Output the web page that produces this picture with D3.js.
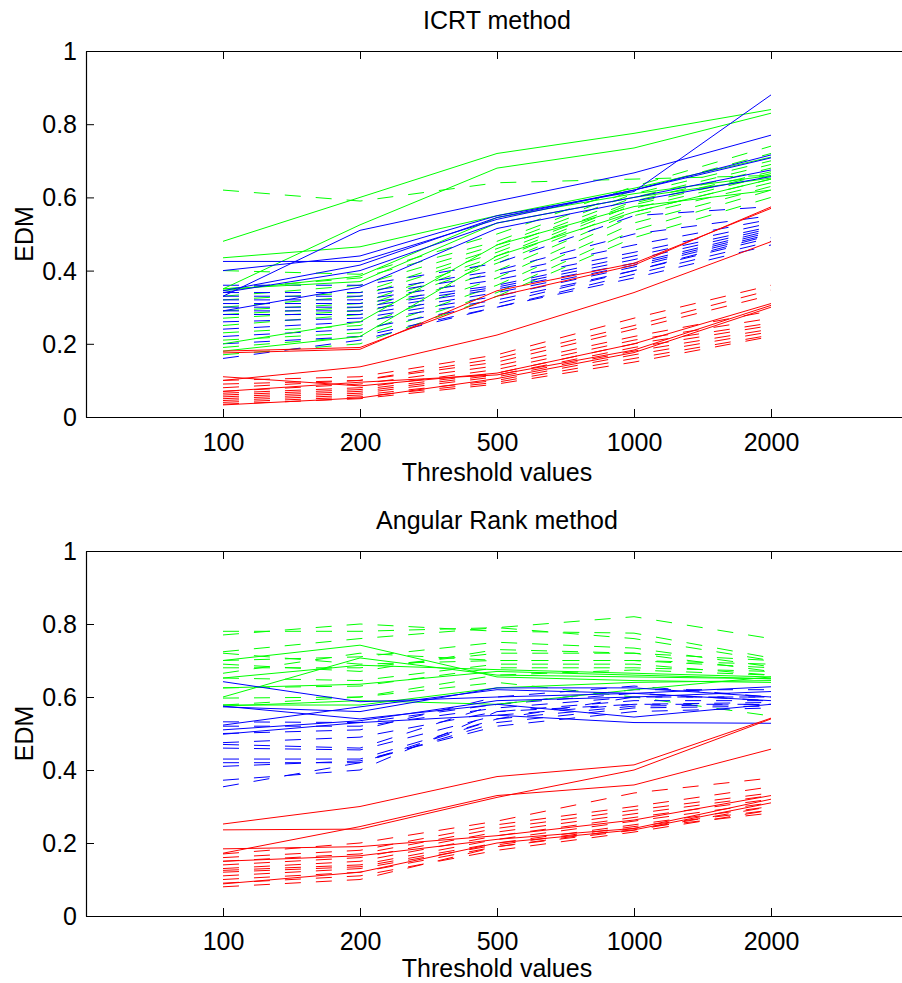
<!DOCTYPE html>
<html>
<head>
<meta charset="utf-8">
<script src="https://cdn.jsdelivr.net/npm/d3@7/dist/d3.min.js"></script>
<style>
  html, body { margin: 0; padding: 0; background: #fff; }
  svg { display: block; }
  text { font-family: "Liberation Sans", Arial, Helvetica, sans-serif; fill: #000; }
</style>
</head>
<body>
<svg id="chart" width="902" height="983"></svg>
<script>
// ---------- data ----------
const thresholds = ["100", "200", "500", "1000", "2000"];
const yTickValues = [0, 0.2, 0.4, 0.6, 0.8, 1];

// ICRT method
const icrtGreenSolid = [
  [0.48, 0.60, 0.72, 0.775, 0.84],
  [0.35, 0.525, 0.68, 0.735, 0.83],
  [0.435, 0.465, 0.55, 0.625, 0.71],
  [0.345, 0.385, 0.545, 0.61, 0.66],
  [0.35, 0.37, 0.53, 0.60, 0.653],
  [0.20, 0.26, 0.47, 0.575, 0.62],
  [0.18, 0.22, 0.44, 0.56, 0.65]
];
const icrtGreenDashed = [
  [0.62, 0.59, 0.64, 0.65, 0.66],
  [0.40, 0.39, 0.50, 0.63, 0.74],
  [0.35, 0.38, 0.48, 0.62, 0.72],
  [0.33, 0.36, 0.47, 0.61, 0.70],
  [0.32, 0.34, 0.46, 0.60, 0.69],
  [0.30, 0.33, 0.45, 0.59, 0.68],
  [0.29, 0.31, 0.44, 0.585, 0.67],
  [0.28, 0.30, 0.43, 0.58, 0.665],
  [0.27, 0.29, 0.42, 0.57, 0.66],
  [0.25, 0.28, 0.40, 0.56, 0.65],
  [0.23, 0.25, 0.38, 0.55, 0.64],
  [0.21, 0.23, 0.36, 0.53, 0.63],
  [0.19, 0.22, 0.34, 0.51, 0.62],
  [0.17, 0.20, 0.33, 0.49, 0.60]
];
const icrtBlueSolid = [
  [0.33, 0.51, 0.59, 0.667, 0.77],
  [0.40, 0.44, 0.55, 0.616, 0.88],
  [0.425, 0.425, 0.54, 0.62, 0.716],
  [0.345, 0.415, 0.545, 0.62, 0.708],
  [0.34, 0.40, 0.53, 0.60, 0.675],
  [0.29, 0.355, 0.515, 0.59, 0.657]
];
const icrtBlueDashed = [
  [0.36, 0.36, 0.42, 0.55, 0.575],
  [0.34, 0.34, 0.40, 0.50, 0.55],
  [0.33, 0.33, 0.39, 0.47, 0.54],
  [0.32, 0.32, 0.375, 0.45, 0.53],
  [0.31, 0.31, 0.36, 0.44, 0.52],
  [0.30, 0.30, 0.355, 0.43, 0.515],
  [0.29, 0.29, 0.35, 0.42, 0.51],
  [0.28, 0.28, 0.34, 0.415, 0.505],
  [0.26, 0.27, 0.33, 0.41, 0.50],
  [0.24, 0.26, 0.32, 0.40, 0.497],
  [0.22, 0.24, 0.31, 0.40, 0.49],
  [0.20, 0.22, 0.30, 0.39, 0.48],
  [0.16, 0.21, 0.30, 0.38, 0.47]
];
const icrtRedSolid = [
  [0.18, 0.19, 0.33, 0.415, 0.574],
  [0.175, 0.185, 0.345, 0.42, 0.57],
  [0.10, 0.137, 0.224, 0.34, 0.479],
  [0.11, 0.085, 0.12, 0.20, 0.31],
  [0.07, 0.095, 0.115, 0.183, 0.305],
  [0.033, 0.052, 0.105, 0.176, 0.30]
];
const icrtRedDashed = [
  [0.10, 0.11, 0.17, 0.27, 0.36],
  [0.09, 0.10, 0.16, 0.25, 0.347],
  [0.08, 0.10, 0.15, 0.24, 0.333],
  [0.07, 0.09, 0.14, 0.22, 0.29],
  [0.065, 0.08, 0.13, 0.21, 0.27],
  [0.06, 0.075, 0.12, 0.20, 0.257],
  [0.055, 0.07, 0.115, 0.19, 0.25],
  [0.05, 0.065, 0.11, 0.18, 0.24],
  [0.045, 0.06, 0.10, 0.17, 0.233],
  [0.04, 0.055, 0.095, 0.16, 0.224],
  [0.035, 0.05, 0.09, 0.15, 0.22]
];

// Angular Rank method
const rankGreenSolid = [
  [0.70, 0.742, 0.655, 0.645, 0.64],
  [0.652, 0.687, 0.675, 0.665, 0.655],
  [0.60, 0.707, 0.66, 0.655, 0.65],
  [0.578, 0.578, 0.625, 0.64, 0.645],
  [0.625, 0.635, 0.67, 0.66, 0.65],
  [0.575, 0.59, 0.58, 0.62, 0.655]
];
const rankGreenDashed = [
  [0.78, 0.78, 0.79, 0.82, 0.76],
  [0.77, 0.80, 0.78, 0.775, 0.707],
  [0.724, 0.76, 0.79, 0.76, 0.70],
  [0.70, 0.71, 0.75, 0.734, 0.683],
  [0.68, 0.68, 0.72, 0.72, 0.67],
  [0.665, 0.72, 0.70, 0.70, 0.68],
  [0.652, 0.645, 0.69, 0.69, 0.66],
  [0.625, 0.63, 0.68, 0.68, 0.67],
  [0.597, 0.60, 0.66, 0.674, 0.66],
  [0.578, 0.60, 0.64, 0.60, 0.548],
  [0.72, 0.69, 0.70, 0.70, 0.69],
  [0.69, 0.67, 0.73, 0.72, 0.70]
];
const rankBlueSolid = [
  [0.642, 0.587, 0.60, 0.61, 0.628],
  [0.573, 0.56, 0.625, 0.625, 0.60],
  [0.523, 0.573, 0.62, 0.61, 0.59],
  [0.498, 0.53, 0.55, 0.53, 0.528],
  [0.575, 0.54, 0.58, 0.545, 0.58],
  [0.51, 0.535, 0.59, 0.60, 0.615]
];
const rankBlueDashed = [
  [0.532, 0.53, 0.58, 0.62, 0.62],
  [0.52, 0.52, 0.57, 0.60, 0.60],
  [0.475, 0.49, 0.56, 0.59, 0.59],
  [0.46, 0.455, 0.55, 0.58, 0.585],
  [0.43, 0.43, 0.54, 0.575, 0.58],
  [0.42, 0.42, 0.53, 0.57, 0.575],
  [0.41, 0.425, 0.52, 0.56, 0.57],
  [0.372, 0.40, 0.56, 0.58, 0.58],
  [0.354, 0.42, 0.54, 0.60, 0.60],
  [0.50, 0.51, 0.60, 0.63, 0.60],
  [0.47, 0.46, 0.58, 0.61, 0.59]
];
const rankRedSolid = [
  [0.252, 0.30, 0.382, 0.414, 0.542],
  [0.236, 0.238, 0.325, 0.40, 0.54],
  [0.172, 0.245, 0.33, 0.359, 0.457],
  [0.184, 0.19, 0.22, 0.263, 0.33],
  [0.15, 0.165, 0.21, 0.24, 0.32],
  [0.088, 0.12, 0.20, 0.236, 0.31]
];
const rankRedDashed = [
  [0.17, 0.20, 0.26, 0.337, 0.378],
  [0.16, 0.18, 0.25, 0.30, 0.354],
  [0.15, 0.17, 0.24, 0.29, 0.337],
  [0.14, 0.16, 0.23, 0.28, 0.33],
  [0.13, 0.15, 0.22, 0.27, 0.32],
  [0.125, 0.14, 0.21, 0.26, 0.31],
  [0.12, 0.135, 0.20, 0.25, 0.30],
  [0.11, 0.13, 0.195, 0.245, 0.29],
  [0.10, 0.12, 0.19, 0.24, 0.282],
  [0.09, 0.11, 0.18, 0.23, 0.29],
  [0.08, 0.10, 0.19, 0.235, 0.30]
];

// ---------- drawing ----------
const svg = d3.select("#chart");
const FONT = 25;
const GREEN = "#00ff00", BLUE = "#0000ff", RED = "#ff0000";

const panels = [
  { title: "ICRT method", top: 51, bottom: 417, xlabelOffset: 64,
    groups: [
      [icrtGreenDashed, GREEN, true], [icrtBlueDashed, BLUE, true], [icrtRedDashed, RED, true],
      [icrtGreenSolid, GREEN, false], [icrtBlueSolid, BLUE, false], [icrtRedSolid, RED, false]
    ] },
  { title: "Angular Rank method", top: 551, bottom: 916, xlabelOffset: 61,
    groups: [
      [rankGreenDashed, GREEN, true], [rankBlueDashed, BLUE, true], [rankRedDashed, RED, true],
      [rankGreenSolid, GREEN, false], [rankBlueSolid, BLUE, false], [rankRedSolid, RED, false]
    ] }
];

const left = 86, right = 908;
const x = d3.scaleLinear().domain([0, 6]).range([left, right]);

panels.forEach(p => {
  const y = d3.scaleLinear().domain([0, 1]).range([p.bottom, p.top]);
  const g = svg.append("g");

  // lines
  const line = d3.line().x((d, i) => x(i + 1)).y(d => y(d));
  p.groups.forEach(([series, color, dashed]) => {
    g.selectAll(null).data(series).enter().append("path")
      .attr("d", line)
      .attr("fill", "none")
      .attr("stroke", color)
      .attr("stroke-width", 1)
      .attr("stroke-dasharray", dashed ? "16,15" : null);
  });

  // axes (ticks inward, MATLAB box style)
  const xb = d3.axisBottom(x).tickValues([1, 2, 3, 4, 5]).tickFormat(d => thresholds[d - 1])
    .tickSizeInner(-8).tickSizeOuter(0).tickPadding(16);
  const xt = d3.axisTop(x).tickValues([1, 2, 3, 4, 5]).tickFormat("")
    .tickSizeInner(-8).tickSizeOuter(0);
  const yl = d3.axisLeft(y).tickValues(yTickValues).tickFormat(d => d3.format("~g")(d))
    .tickSizeInner(-8).tickSizeOuter(0).tickPadding(9);

  const gx = g.append("g").attr("transform", `translate(0,${p.bottom})`).call(xb);
  const gxt = g.append("g").attr("transform", `translate(0,${p.top})`).call(xt);
  const gy = g.append("g").attr("transform", `translate(${left},0)`).call(yl);
  [gx, gxt, gy].forEach(a => {
    a.selectAll(".domain").attr("stroke", "#000").attr("stroke-width", 1.2);
    a.selectAll(".tick line").attr("stroke", "#000").attr("stroke-width", 1);
    a.selectAll(".tick text").style("font-size", FONT + "px")
      .style("font-family", '"Liberation Sans", Arial, Helvetica, sans-serif').attr("fill", "#000");
  });
  gx.selectAll(".tick text").attr("dy", "0.71em");
  gy.selectAll(".tick text").attr("dy", "0.34em");

  // right border of the box
  g.append("line").attr("x1", right).attr("x2", right).attr("y1", p.top).attr("y2", p.bottom)
    .attr("stroke", "#000").attr("stroke-width", 1.2);

  // title
  g.append("text").attr("x", (left + right) / 2).attr("y", p.top - 22)
    .attr("text-anchor", "middle").style("font-size", FONT + "px").text(p.title);
  // x label
  g.append("text").attr("x", (left + right) / 2).attr("y", p.bottom + p.xlabelOffset)
    .attr("text-anchor", "middle").style("font-size", FONT + "px").text("Threshold values");
  // y label
  g.append("text").attr("transform", `translate(33,${(p.top + p.bottom) / 2}) rotate(-90)`)
    .attr("text-anchor", "middle").style("font-size", FONT + "px").text("EDM");
});
</script>
</body>
</html>
